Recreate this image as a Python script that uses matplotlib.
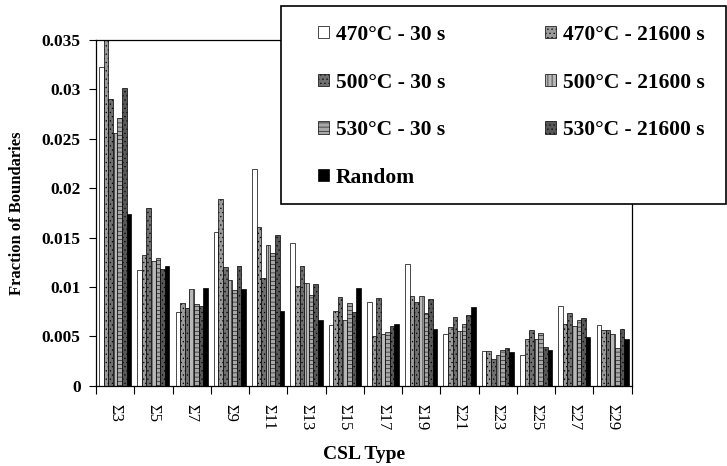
import numpy as np
import matplotlib
matplotlib.use("Agg")
import matplotlib.pyplot as plt
from matplotlib.patches import Rectangle

plt.rcParams['font.family'] = ['Liberation Serif', 'DejaVu Serif']
plt.rcParams['hatch.linewidth'] = 0.4

# CSL types on the x axis
categories = ["Σ3", "Σ5", "Σ7", "Σ9", "Σ11", "Σ13", "Σ15",
              "Σ17", "Σ19", "Σ21", "Σ23", "Σ25", "Σ27", "Σ29"]

# fraction of boundaries for each anneal
s470_30 = [0.0323, 0.0117, 0.0075, 0.0156, 0.0220, 0.0145, 0.0062,
           0.0085, 0.0123, 0.0052, 0.0035, 0.0031, 0.0081, 0.0062]
s470_21600 = [0.0350, 0.0132, 0.0084, 0.0189, 0.0161, 0.0101, 0.0076,
              0.0050, 0.0091, 0.0060, 0.0035, 0.0047, 0.0063, 0.0057]
s500_30 = [0.0290, 0.0180, 0.0079, 0.0120, 0.0109, 0.0121, 0.0090,
           0.0089, 0.0085, 0.0070, 0.0027, 0.0057, 0.0074, 0.0057]
s500_21600 = [0.0256, 0.0126, 0.0098, 0.0107, 0.0143, 0.0104, 0.0067,
              0.0052, 0.0091, 0.0056, 0.0031, 0.0047, 0.0061, 0.0052]
s530_30 = [0.0271, 0.0129, 0.0083, 0.0097, 0.0134, 0.0092, 0.0084,
           0.0055, 0.0074, 0.0063, 0.0036, 0.0054, 0.0067, 0.0038]
s530_21600 = [0.0301, 0.0118, 0.0081, 0.0121, 0.0153, 0.0103, 0.0075,
              0.0061, 0.0088, 0.0072, 0.0038, 0.0039, 0.0069, 0.0058]
random_ = [0.0174, 0.0121, 0.0099, 0.0098, 0.0076, 0.0067, 0.0099,
           0.0063, 0.0058, 0.0080, 0.0034, 0.0036, 0.0049, 0.0047]

series = [
    ("470°C - 30 s", s470_30, "white", None),
    ("470°C - 21600 s", s470_21600, "#9a9a9a", "...."),
    ("500°C - 30 s", s500_30, "#707070", "...."),
    ("500°C - 21600 s", s500_21600, "#b8b8b8", "||||"),
    ("530°C - 30 s", s530_30, "#a8a8a8", "----"),
    ("530°C - 21600 s", s530_21600, "#585858", "...."),
    ("Random", random_, "black", None),
]

W, H = 727, 466
fig = plt.figure(figsize=(W / 100, H / 100), dpi=100)
ax = fig.add_axes([0.132, 0.172, 0.737, 0.742])

x = np.arange(len(categories)) + 0.5
w = 0.12
handles = {}
for k, (name, vals, fc, hatch) in enumerate(series):
    b = ax.bar(x + (k - 3) * w, vals, w, color=fc, edgecolor="black",
               linewidth=0.5, hatch=hatch, label=name)
    handles[name] = b

ax.set_xlim(0, len(categories))
ax.set_ylim(0, 0.035)
ax.set_yticks(np.arange(0, 0.0351, 0.005))
ax.set_yticklabels(["0", "0.005", "0.01", "0.015", "0.02", "0.025", "0.03", "0.035"],
                   fontsize=12.5, fontweight="bold")
ax.set_xticks(x)
ax.set_xticklabels(categories, rotation=-90, fontsize=12)
ax.set_xticks(np.arange(0, len(categories) + 1), minor=True)
ax.tick_params(axis="x", which="major", length=0, pad=13)
ax.tick_params(axis="x", which="minor", length=6, direction="out", width=0.8)
ax.tick_params(axis="y", length=5, width=0.8, pad=6)
for sp in ax.spines.values():
    sp.set_linewidth(0.9)

ax.set_ylabel("Fraction of Boundaries", fontsize=12, fontweight="bold", labelpad=12)
ax.set_xlabel("CSL Type", fontsize=14, fontweight="bold", labelpad=11)

# legend box drawn separately so the entries can sit where they do in the original
frame = Rectangle((281 / W, 1 - 204 / H), (726 - 281) / W, (204 - 6) / H,
                  transform=fig.transFigure, facecolor="white", edgecolor="black",
                  linewidth=1.2, zorder=4)
fig.patches.append(frame)

order = ["470°C - 30 s", "500°C - 30 s", "530°C - 30 s", "Random",
         "470°C - 21600 s", "500°C - 21600 s", "530°C - 21600 s"]
leg = fig.legend([handles[n] for n in order], order, ncol=2,
                 loc="upper left",
                 bbox_to_anchor=(318 / W, 1 - 195 / H, 387 / W, 170 / H),
                 mode="expand", frameon=False,
                 prop={"weight": "bold", "size": 15.5},
                 handlelength=0.5, handleheight=0.5, handletextpad=0.33,
                 labelspacing=1.28, borderaxespad=0, borderpad=0, columnspacing=0.47)
leg.set_zorder(5)

fig.savefig("out.png", dpi=100)
